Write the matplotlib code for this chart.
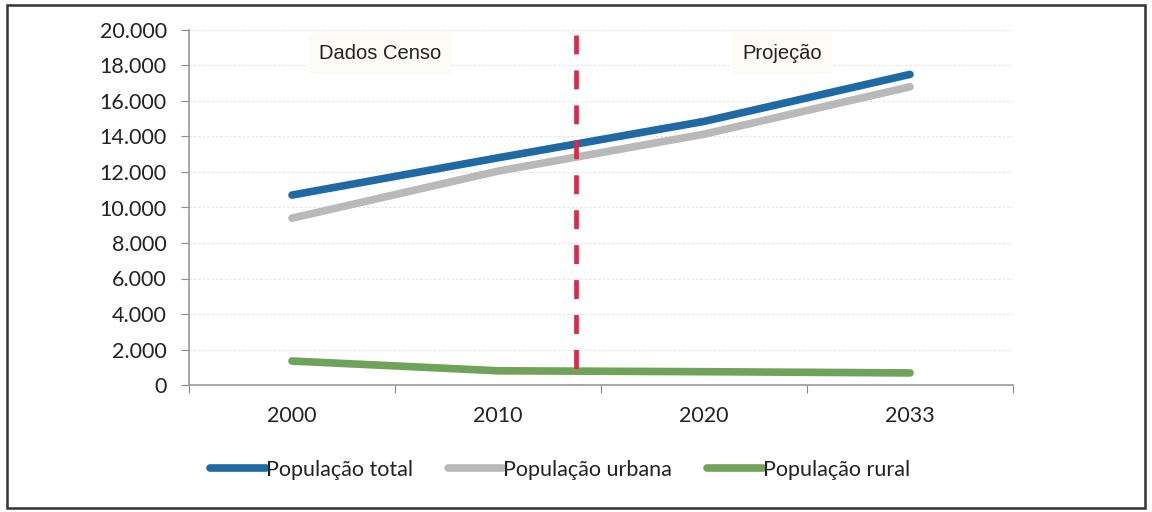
import matplotlib
matplotlib.use("Agg")
import matplotlib.pyplot as plt
from matplotlib.patches import Rectangle

years = ["2000", "2010", "2020", "2033"]
pop_total = [10700, 12800, 14850, 17500]
pop_urbana = [9400, 12050, 14130, 16800]
pop_rural = [1350, 800, 750, 680]
series_labels = ["População total", "População urbana", "População rural"]
y_ticks = [0, 2000, 4000, 6000, 8000, 10000, 12000, 14000, 16000, 18000, 20000]
divider_pos = 1.38  # between 2010 and 2020 (category units)
period_labels = ["Dados Censo", "Projeção"]
period_pos = [0.43, 2.38]

colors = ["#1f6aa5", "#b9b9b9", "#6fa35a"]
tick_font = "Lato"

fig = plt.figure(figsize=(11.52, 5.12), dpi=100)
ax = fig.add_axes([189 / 1152, 1 - 385 / 512, (1013 - 189) / 1152, (385 - 30) / 512])

x = list(range(len(years)))
for vals, c, lab in zip([pop_total, pop_urbana, pop_rural], colors, series_labels):
    ax.plot(x, vals, color=c, lw=5.5, solid_capstyle="round", solid_joinstyle="round", label=lab, zorder=3)

ax.axvline(divider_pos, ymin=0.985, ymax=0.0, color="#e0284a", lw=3.4, dashes=(4.0, 3.4), zorder=4)

ax.set_xlim(-0.5, len(years) - 0.5)
ax.set_ylim(0, 20000)
ax.set_yticks(y_ticks)
ax.set_yticklabels([f"{v:,}".replace(",", ".") for v in y_ticks], fontsize=15.5, family=tick_font, color="#222222")
ax.set_xticks([i - 0.5 for i in range(len(years) + 1)])
ax.set_xticklabels([])
ax.set_xticks(x, minor=True)
ax.set_xticklabels(years, minor=True, fontsize=15.5, family=tick_font, color="#222222")
ax.tick_params(axis="x", which="major", length=6, color="#888888", direction="out")
ax.tick_params(axis="x", which="minor", length=0, pad=15)
ax.tick_params(axis="y", length=6, color="#888888", pad=10)

for s in ["top", "right"]:
    ax.spines[s].set_visible(False)
for s in ["left", "bottom"]:
    ax.spines[s].set_color("#999999")
    ax.spines[s].set_linewidth(1.2)

ax.grid(axis="y", color="#e4e4e4", lw=0.8, ls=(0, (2, 2)))
ax.set_axisbelow(True)

for lab, px in zip(period_labels, period_pos):
    ax.text(px, 18650, lab, ha="center", va="center", fontsize=14.5, family="Liberation Sans",
            color="#222222", bbox=dict(boxstyle="square,pad=0.5", fc="#fdfbf6", ec="none"))

leg = fig.legend(loc="center", bbox_to_anchor=(560 / 1152, 1 - 470 / 512), ncol=3, frameon=False,
                 prop={"family": tick_font, "size": 15.5}, handlelength=2.6, handletextpad=0.0,
                 columnspacing=1.6)
for t in leg.get_texts():
    t.set_color("#222222")

fig.patches.append(Rectangle((7 / 1152, 1 - 508 / 512), (1145 - 7) / 1152, (508 - 5) / 512,
                             transform=fig.transFigure, fill=False, ec="#333333", lw=1.8))

fig.savefig("out.png", dpi=100, facecolor="white")
